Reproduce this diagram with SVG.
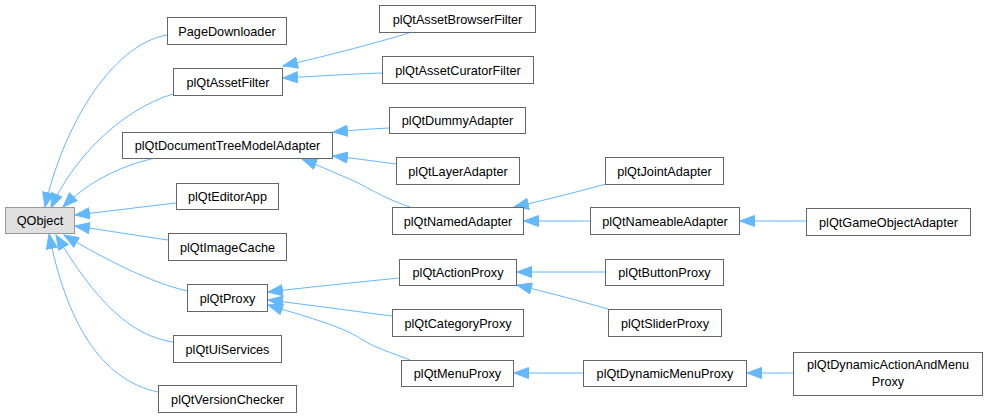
<svg xmlns="http://www.w3.org/2000/svg" width="987" height="417" viewBox="0 0 987 417">
<style>
.n rect{fill:#ffffff;stroke:#666666;stroke-width:1}
.root rect{fill:#e0e0e0;stroke:#999999}
text{font-family:"Liberation Sans",Arial,sans-serif;font-size:12.7px;fill:#000000;text-anchor:middle}
.e path{fill:none;stroke:#63b8ff;stroke-width:1;marker-end:url(#ah)}
</style>
<defs>
<marker id="ah" markerUnits="userSpaceOnUse" markerWidth="16" markerHeight="12" viewBox="0 0 16 12" refX="15" refY="6" orient="auto">
<path d="M0.5,0.5 L15,6 L0.5,11.5 z" fill="#63b8ff" stroke="#63b8ff" stroke-width="1"/>
</marker>
</defs>
<rect width="987" height="417" fill="#ffffff"/>
<g id="edges" class="e">
<path d="M167,35 C110,45 62,130 45,207"/>
<path d="M173,94 C120,110 72,160 51,208"/>
<path d="M155,158 C120,166 88,182 63,207"/>
<path d="M176,203 C150,206 110,211 75,215"/>
<path d="M168,240 C140,236 110,231 75,226"/>
<path d="M187,291 C150,282 110,262 64,235"/>
<path d="M173,342 C130,336 95,300 56,235"/>
<path d="M158,392 C100,380 66,320 49,234"/>
<path d="M412,32 C380,42 330,55 283,66"/>
<path d="M382,73 C350,74 320,76 283,78"/>
<path d="M389,128 C370,129 355,130 333,132"/>
<path d="M396,164 C380,162 360,159 333,156"/>
<path d="M410,207 C380,197 365,185 345,177 C330,171 318,165 302,159"/>
<path d="M606,184 C580,191 550,199 514,207"/>
<path d="M590,221 L524,221"/>
<path d="M806,221 L740,221"/>
<path d="M605,272 L517,272"/>
<path d="M608,309 C580,301 550,293 517,285"/>
<path d="M583,373 L514,373"/>
<path d="M793,373 L747,373"/>
<path d="M399,278 C360,282 310,287 268,292"/>
<path d="M392,316 C360,312 310,305 268,300"/>
<path d="M410,360 C390,352 375,348 363,340 C340,325 300,315 268,305"/>
</g>
<g id="QObject" class="n root"><rect x="5.5" y="207.5" width="69" height="26"/><text x="40" y="225">QObject</text></g>
<g id="PageDownloader" class="n"><rect x="167.5" y="17.5" width="119" height="27"/><text x="227" y="35.5">PageDownloader</text></g>
<g id="plQtAssetFilter" class="n"><rect x="173.5" y="68.5" width="109" height="27"/><text x="228" y="86.5">plQtAssetFilter</text></g>
<g id="plQtDocumentTreeModelAdapter" class="n"><rect x="122.5" y="132.5" width="210" height="26"/><text x="227.5" y="150">plQtDocumentTreeModelAdapter</text></g>
<g id="plQtEditorApp" class="n"><rect x="176.5" y="183.5" width="102" height="26"/><text x="227.5" y="201">plQtEditorApp</text></g>
<g id="plQtImageCache" class="n"><rect x="168.5" y="233.5" width="118" height="27"/><text x="227.5" y="251.5">plQtImageCache</text></g>
<g id="plQtProxy" class="n"><rect x="187.5" y="284.5" width="80" height="27"/><text x="227.5" y="302.5">plQtProxy</text></g>
<g id="plQtUiServices" class="n"><rect x="173.5" y="335.5" width="108" height="27"/><text x="227.5" y="353.5">plQtUiServices</text></g>
<g id="plQtVersionChecker" class="n"><rect x="158.5" y="385.5" width="138" height="27"/><text x="227.5" y="403.5">plQtVersionChecker</text></g>
<g id="plQtAssetBrowserFilter" class="n"><rect x="379.5" y="5.5" width="156" height="27"/><text x="457.5" y="23.5">plQtAssetBrowserFilter</text></g>
<g id="plQtAssetCuratorFilter" class="n"><rect x="382.5" y="56.5" width="151" height="27"/><text x="458" y="74.5">plQtAssetCuratorFilter</text></g>
<g id="plQtDummyAdapter" class="n"><rect x="389.5" y="107.5" width="136" height="26"/><text x="457.5" y="125">plQtDummyAdapter</text></g>
<g id="plQtLayerAdapter" class="n"><rect x="396.5" y="157.5" width="123" height="27"/><text x="458" y="175.5">plQtLayerAdapter</text></g>
<g id="plQtNamedAdapter" class="n"><rect x="392.5" y="207.5" width="131" height="27"/><text x="458" y="225.5">plQtNamedAdapter</text></g>
<g id="plQtActionProxy" class="n"><rect x="399.5" y="259.5" width="117" height="26"/><text x="458" y="277">plQtActionProxy</text></g>
<g id="plQtCategoryProxy" class="n"><rect x="392.5" y="309.5" width="131" height="27"/><text x="458" y="327.5">plQtCategoryProxy</text></g>
<g id="plQtMenuProxy" class="n"><rect x="401.5" y="360.5" width="112" height="26"/><text x="457.5" y="378">plQtMenuProxy</text></g>
<g id="plQtJointAdapter" class="n"><rect x="605.5" y="157.5" width="118" height="27"/><text x="664.5" y="175.5">plQtJointAdapter</text></g>
<g id="plQtNameableAdapter" class="n"><rect x="590.5" y="207.5" width="149" height="27"/><text x="665" y="225.5">plQtNameableAdapter</text></g>
<g id="plQtButtonProxy" class="n"><rect x="605.5" y="259.5" width="118" height="26"/><text x="664.5" y="277">plQtButtonProxy</text></g>
<g id="plQtSliderProxy" class="n"><rect x="608.5" y="309.5" width="113" height="27"/><text x="665" y="327.5">plQtSliderProxy</text></g>
<g id="plQtDynamicMenuProxy" class="n"><rect x="583.5" y="360.5" width="163" height="26"/><text x="665" y="378">plQtDynamicMenuProxy</text></g>
<g id="plQtGameObjectAdapter" class="n"><rect x="806.5" y="208.5" width="164" height="27"/><text x="888.5" y="226.5">plQtGameObjectAdapter</text></g>
<g id="plQtDynamicActionAndMenuProxy" class="n"><rect x="793.5" y="352.5" width="189" height="43"/><text x="888" y="369">plQtDynamicActionAndMenu</text><text x="888" y="385.5">Proxy</text></g>
</svg>
